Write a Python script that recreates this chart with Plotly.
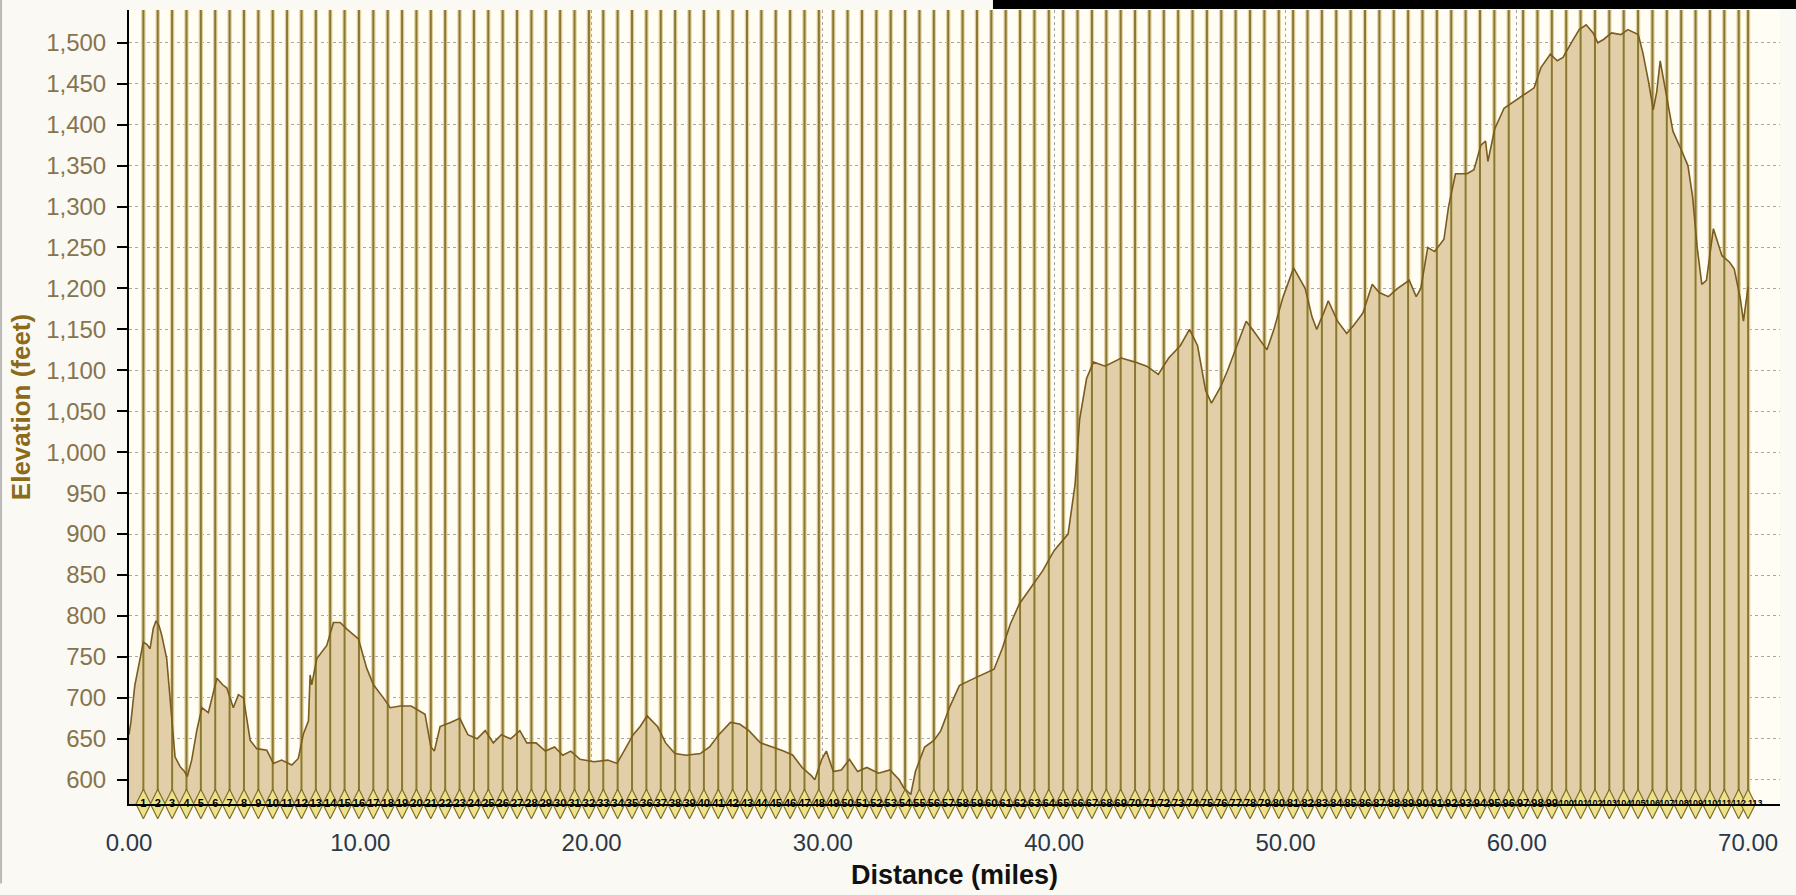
import plotly.graph_objects as go

# ---------------- data ----------------
dist_mi = [0.0, 0.08, 0.25, 0.41, 0.62, 0.78, 0.91, 1.05, 1.17, 1.3, 1.42, 1.63, 1.78, 1.99, 2.21, 2.4, 2.52,
           2.71, 2.93, 3.15, 3.43, 3.6, 3.8, 4.05, 4.23, 4.51, 4.73, 4.95, 5.24, 5.52, 5.96, 6.24, 6.6,
           7.04, 7.32, 7.54, 7.76, 7.83, 7.9, 8.12, 8.55, 8.84, 9.13, 9.42, 9.92, 10.28, 10.57, 11.0,
           11.29, 11.72, 12.2, 12.8, 13.05, 13.2, 13.45, 13.9, 14.3, 14.65, 15.05, 15.4, 15.75, 16.1,
           16.5, 16.9, 17.2, 17.6, 18.0, 18.4, 18.75, 19.1, 19.5, 20.1, 20.7, 21.1, 21.5, 21.8, 22.1,
           22.4, 22.85, 23.2, 23.6, 24.1, 24.7, 25.1, 25.5, 26.0, 26.4, 26.8, 27.3, 27.8, 28.3, 28.7,
           29.1, 29.5, 29.65, 29.95, 30.15, 30.45, 30.8, 31.15, 31.5, 31.9, 32.4, 32.9, 33.3, 33.5,
           33.8, 34.0, 34.4, 34.8, 35.1, 35.5, 35.9, 36.4, 36.9, 37.4, 37.75, 38.1, 38.5, 39.0, 39.5,
           40.0, 40.6, 40.9, 41.1, 41.4, 41.7, 42.2, 42.9, 43.5, 44.0, 44.5, 44.95, 45.45, 45.85, 46.2,
           46.55, 46.8, 47.2, 47.5, 47.9, 48.3, 48.7, 49.2, 49.5, 49.9, 50.35, 50.85, 51.15, 51.35,
           51.65, 51.85, 52.25, 52.65, 52.95, 53.35, 53.75, 54.05, 54.45, 54.85, 55.35, 55.65, 55.85,
           56.15, 56.45, 56.85, 57.05, 57.35, 57.85, 58.15, 58.45, 58.65, 58.75, 59.05, 59.45, 59.95,
           60.45, 60.75, 61.05, 61.45, 61.75, 62.0, 62.4, 62.7, 63.0, 63.3, 63.5, 63.75, 64.1, 64.5,
           64.8, 65.1, 65.25, 65.45, 65.7, 65.9, 66.05, 66.2, 66.4, 66.75, 67.1, 67.4, 67.6, 67.8,
           68.0, 68.2, 68.5, 68.87, 69.2, 69.4, 69.66, 69.8, 70.0]
elev_ft = [655, 670, 715, 740, 768, 765, 760, 785, 794, 788, 776, 748, 700, 628, 616, 610, 604,
           624, 660, 688, 682, 700, 724, 716, 712, 688, 704, 700, 648, 638, 636, 620, 624,
           618, 626, 656, 672, 728, 716, 748, 764, 792, 792, 784, 772, 736, 716, 700,
           688, 690, 690, 680, 640, 635, 665, 670, 675, 655, 650, 660, 645, 655,
           650, 660, 645, 645, 635, 640, 630, 635, 625, 622, 624, 620, 640, 655, 665,
           678, 665, 645, 632, 630, 632, 640, 655, 670, 668, 660, 645, 640, 635, 630,
           615, 605, 600, 625, 635, 610, 612, 625, 610, 615, 608, 612, 600, 590,
           582, 610, 640, 648, 660, 690, 715, 722, 728, 735, 760, 790, 815, 835, 855,
           880, 900, 960, 1040, 1090, 1110, 1105, 1115, 1110, 1105, 1095, 1115, 1130, 1150, 1130,
           1075, 1060, 1080, 1100, 1130, 1160, 1145, 1125, 1150, 1190, 1225, 1200, 1165, 1150,
           1170, 1185, 1160, 1145, 1155, 1170, 1205, 1195, 1190, 1200, 1210, 1190, 1200,
           1250, 1245, 1260, 1300, 1340, 1340, 1345, 1375, 1380, 1355, 1395, 1420, 1430,
           1440, 1445, 1470, 1486, 1478, 1482, 1502, 1516, 1522, 1512, 1500, 1504, 1512, 1510,
           1516, 1512, 1510, 1488, 1452, 1418, 1440, 1478, 1446, 1392, 1370, 1350, 1312, 1250,
           1205, 1210, 1273, 1240, 1232, 1224, 1188, 1160, 1202]

lap_km = list(range(1, 113))          # kilometre lap markers
end_mi = 70.0                          # finish marker
end_label = "113"
KM_TO_MI = 0.621371

x_tick_vals = [0, 10, 20, 30, 40, 50, 60, 70]
x_tick_text = ["0.00", "10.00", "20.00", "30.00", "40.00", "50.00", "60.00", "70.00"]
y_tick_vals = [600, 650, 700, 750, 800, 850, 900, 950, 1000, 1050, 1100, 1150, 1200,
               1250, 1300, 1350, 1400, 1450, 1500]
y_tick_text = ["600", "650", "700", "750", "800", "850", "900", "950", "1,000", "1,050",
               "1,100", "1,150", "1,200", "1,250", "1,300", "1,350", "1,400", "1,450", "1,500"]

X_RANGE = [0, 71.38]
Y_RANGE = [570.4, 1540]

# ---------------- figure ----------------
lap_mi = [k * KM_TO_MI for k in lap_km] + [end_mi]
lap_text = [str(k) for k in lap_km] + [end_label]
lap_font = [11 if len(t) < 3 else 9 for t in lap_text]
lap_pos = ["middle center"] * len(lap_km) + ["middle right"]

vx, vy = [], []
for d in lap_mi:
    vx += [d, d, None]
    vy += [Y_RANGE[0], Y_RANGE[1], None]

fig = go.Figure()

# filled area
fig.add_trace(go.Scatter(x=dist_mi, y=elev_ft, mode="lines", fill="tozeroy",
                         fillcolor="#E2CEA8", line=dict(width=0, color="#E2CEA8"),
                         hoverinfo="skip", showlegend=False))
# lap lines (two-tone)
fig.add_trace(go.Scatter(x=vx, y=vy, mode="lines", line=dict(color="#E0D39E", width=4.4),
                         hoverinfo="skip", showlegend=False))
fig.add_trace(go.Scatter(x=vx, y=vy, mode="lines", line=dict(color="#8C7537", width=2.0),
                         hoverinfo="skip", showlegend=False))
# profile outline
fig.add_trace(go.Scatter(x=dist_mi, y=elev_ft, mode="lines",
                         line=dict(color="#7A5C1C", width=1.6),
                         showlegend=False))
# lap diamonds
fig.add_trace(go.Scatter(x=lap_mi, y=[Y_RANGE[0]] * len(lap_mi), mode="markers",
                         marker=dict(symbol="diamond-tall", size=21, color="#EDE28A",
                                     line=dict(color="#7E6E2A", width=1.2)),
                         cliponaxis=False, hoverinfo="skip", showlegend=False))
# km labels on the diamonds
fig.add_trace(go.Scatter(x=lap_mi, y=[Y_RANGE[0]] * len(lap_mi), mode="text",
                         text=lap_text, textposition=lap_pos,
                         textfont=dict(family="Liberation Sans", size=lap_font, color="#000000",
                                       weight="bold"),
                         cliponaxis=False, hoverinfo="skip", showlegend=False))

fig.update_layout(
    width=1796, height=895,
    margin=dict(l=129, r=16, t=10, b=77),
    paper_bgcolor="#FBF9F3",
    plot_bgcolor="#FFFDF4",
    showlegend=False,
    font=dict(family="Liberation Sans"),
    shapes=[
        dict(type="rect", xref="paper", yref="paper", x0=0.5233, x1=1.02, y0=1.0012, y1=1.02,
             fillcolor="black", line=dict(width=0), layer="above"),
        dict(type="line", xref="paper", yref="paper", x0=-0.0775, x1=-0.0775, y0=-0.1, y1=1.02,
             line=dict(color="#B8B8B8", width=2), layer="above"),
    ],
)

fig.update_xaxes(
    range=X_RANGE, tickvals=x_tick_vals, ticktext=x_tick_text,
    tickfont=dict(family="Liberation Sans", size=24, color="#2C3848"),
    ticks="", ticklabelstandoff=16,
    showline=True, linecolor="black", linewidth=2,
    showgrid=True, gridcolor="#A6A6A6", griddash="dot", gridwidth=1,
    zeroline=False,
    title=dict(text="<b>Distance (miles)</b>", standoff=10,
               font=dict(family="Liberation Sans", size=27, color="#111111")),
)
fig.update_yaxes(
    range=Y_RANGE, tickvals=y_tick_vals, ticktext=y_tick_text,
    tickfont=dict(family="Liberation Sans", size=24, color="#86744E"),
    ticks="outside", ticklen=10, tickwidth=2, tickcolor="black", ticklabelstandoff=6,
    showline=True, linecolor="black", linewidth=2,
    showgrid=True, gridcolor="#A6A6A6", griddash="dot", gridwidth=1,
    zeroline=False,
    title=dict(text="<b>Elevation (feet)</b>", standoff=8,
               font=dict(family="Liberation Sans", size=26, color="#8B6A1A")),
)

fig.write_html("out.html", config={"displayModeBar": False},
               post_script="document.body.style.margin='0';document.body.style.overflow='hidden';")
